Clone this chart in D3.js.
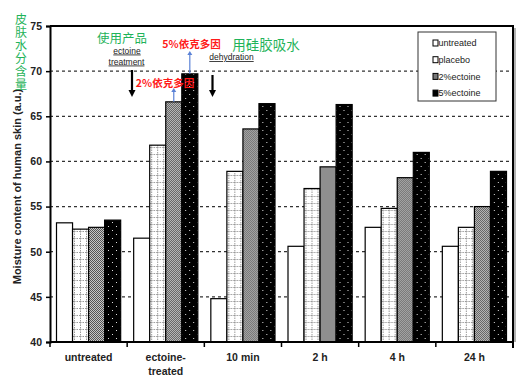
<!DOCTYPE html>
<html><head><meta charset="utf-8">
<script src="https://cdn.jsdelivr.net/npm/d3@7"></script>
<style>
body{margin:0;background:#fff;}
svg{display:block;}
.lbl{font-family:"Liberation Sans Narrow","Arial Narrow","Liberation Sans",sans-serif;font-weight:bold;fill:#222;}
.cjk{font-family:"Noto Sans CJK SC",sans-serif;}
.leg{font-family:"Liberation Sans","DejaVu Sans",sans-serif;fill:#222;}
</style></head>
<body>
<script>
const categories = ["untreated", "ectoine-treated", "10 min", "2 h", "4 h", "24 h"];
const seriesNames = ["untreated", "placebo", "2%ectoine", "5%ectoine"];
const untreatedVals = [53.2, 51.5, 44.8, 50.6, 52.7, 50.6];
const placeboVals   = [52.5, 61.8, 58.9, 57.0, 54.8, 52.7];
const ectoine2Vals  = [52.7, 66.6, 63.6, 59.4, 58.2, 55.0];
const ectoine5Vals  = [53.5, 69.7, 66.4, 66.3, 61.0, 58.9];
const yTicks = [40, 45, 50, 55, 60, 65, 70, 75];

const W = 526, H = 377;
const svg = d3.select("body").append("svg").attr("width", W).attr("height", H);
const defs = svg.append("defs");

// patterns
const pPlacebo = defs.append("pattern").attr("id","pPlacebo").attr("patternUnits","userSpaceOnUse")
  .attr("width",6).attr("height",7);
pPlacebo.append("rect").attr("width",6).attr("height",7).attr("fill","#fff");
pPlacebo.append("line").attr("x1",0.5).attr("x2",0.5).attr("y1",0).attr("y2",7)
  .attr("stroke","#999").attr("stroke-width",1).attr("stroke-dasharray","1.5,1");
pPlacebo.append("line").attr("x1",0).attr("x2",6).attr("y1",0.5).attr("y2",0.5)
  .attr("stroke","#999").attr("stroke-width",1).attr("stroke-dasharray","1.5,1");

const p2 = defs.append("pattern").attr("id","p2").attr("patternUnits","userSpaceOnUse")
  .attr("width",2).attr("height",2);
p2.append("rect").attr("width",2).attr("height",2).attr("fill","#c8c8c8");
p2.append("rect").attr("width",1).attr("height",1).attr("fill","#555");
p2.append("rect").attr("x",1).attr("y",1).attr("width",1).attr("height",1).attr("fill","#555");

const p5 = defs.append("pattern").attr("id","p5").attr("patternUnits","userSpaceOnUse")
  .attr("width",8).attr("height",8);
p5.append("rect").attr("width",8).attr("height",8).attr("fill","#000");
p5.append("rect").attr("x",2).attr("y",2).attr("width",1).attr("height",1).attr("fill","#ddd");
p5.append("rect").attr("x",6).attr("y",6).attr("width",1).attr("height",1).attr("fill","#ddd");

const fills = ["#fff", "url(#pPlacebo)", "url(#p2)", "url(#p5)"];
const legFills = ["#fff", "#fff", "#777", "#000"];

const margin = {left: 50, right: 513, top: 26, bottom: 342};
const y = d3.scaleLinear().domain([40, 75]).range([margin.bottom, margin.top]);
const x0 = d3.scaleBand().domain(categories).range([margin.left, margin.right]).padding(0);
const x1 = d3.scaleBand().domain(seriesNames).range([6.5, x0.bandwidth() - 6.5]).padding(0);

const values = [untreatedVals, placeboVals, ectoine2Vals, ectoine5Vals];

// gridlines
svg.append("g").selectAll("line").data(yTicks.filter(t => t > 40 && t < 75)).join("line")
  .attr("x1", margin.left).attr("x2", margin.right)
  .attr("y1", d => y(d)).attr("y2", d => y(d))
  .attr("stroke", "#333").attr("stroke-width", 1.3).attr("stroke-dasharray", "3,3");

// bars
const groups = svg.append("g").selectAll("g").data(categories).join("g")
  .attr("transform", d => `translate(${x0(d)},0)`);
groups.selectAll("rect").data((c, i) => seriesNames.map((s, j) => ({s, j, v: values[j][i]}))).join("rect")
  .attr("x", d => x1(d.s)).attr("width", x1.bandwidth())
  .attr("y", d => y(d.v)).attr("height", d => y(40) - y(d.v))
  .attr("fill", d => fills[d.j]).attr("stroke", "#000").attr("stroke-width", 1.2);

// frame
svg.append("line").attr("x1", margin.left).attr("x2", margin.right + 1).attr("y1", margin.top).attr("y2", margin.top)
  .attr("stroke", "#000").attr("stroke-width", 2);
svg.append("line").attr("x1", margin.right).attr("x2", margin.right).attr("y1", margin.top).attr("y2", margin.bottom + 6)
  .attr("stroke", "#000").attr("stroke-width", 2);
svg.append("line").attr("x1", margin.right + 2).attr("x2", margin.right + 2).attr("y1", margin.top + 2).attr("y2", margin.bottom)
  .attr("stroke", "#999").attr("stroke-width", 1.5);

// y axis
const yAxis = svg.append("g").attr("transform", `translate(${margin.left},0)`)
  .call(d3.axisLeft(y).tickValues(yTicks).tickSize(4).tickPadding(4));
yAxis.select(".domain").attr("stroke", "#000").attr("stroke-width", 2);
yAxis.selectAll(".tick line").attr("stroke", "#000").attr("stroke-width", 1.5);
yAxis.selectAll("text").attr("class", "lbl").style("font-size", "10.5px");

// x axis
const bounds = categories.map(c => x0(c)).concat([margin.right]);
const xg = svg.append("g");
xg.append("line").attr("x1", margin.left).attr("x2", margin.right).attr("y1", margin.bottom).attr("y2", margin.bottom)
  .attr("stroke", "#000").attr("stroke-width", 2);
xg.selectAll("line.t").data(bounds).join("line").attr("class", "t")
  .attr("x1", d => d).attr("x2", d => d).attr("y1", margin.bottom).attr("y2", margin.bottom + 5)
  .attr("stroke", "#000").attr("stroke-width", 1.5);
const xl = xg.selectAll("text").data(categories).join("text").attr("class", "lbl")
  .attr("text-anchor", "middle").style("font-size", "10.5px")
  .attr("x", d => x0(d) + x0.bandwidth() / 2).attr("y", margin.bottom + 19);
xl.each(function(d) {
  const parts = d.includes("-") ? [d.split("-")[0] + "-", d.split("-")[1]] : [d];
  d3.select(this).selectAll("tspan").data(parts).join("tspan")
    .attr("x", x0(d) + x0.bandwidth() / 2).attr("dy", (p, i) => i === 0 ? 0 : 14).text(p => p);
});

// y title
svg.append("text").attr("class", "lbl").style("font-size", "11px")
  .attr("transform", `translate(21,${(278 + 95) / 2}) rotate(-90)`)
  .attr("text-anchor", "middle").text("Moisture content of human skin (a.u.)");
svg.append("text").attr("class", "cjk")
  .attr("x", 21).attr("y", 13)
  .style("writing-mode", "vertical-rl").style("text-orientation", "upright")
  .style("font-size", "12px").style("letter-spacing", "1px")
  .attr("fill", "#1fb35a").text("皮肤水分含量");

// legend
const lg = svg.append("g");
lg.append("rect").attr("x", 418).attr("y", 32).attr("width", 78).attr("height", 69)
  .attr("fill", "#fff").attr("stroke", "#333").attr("stroke-width", 1);
seriesNames.forEach((s, i) => {
  const yy = 43 + i * 16.7;
  lg.append("rect").attr("x", 433).attr("y", yy - 3).attr("width", 5).attr("height", 6)
    .attr("fill", legFills[i]).attr("stroke", "#000").attr("stroke-width", 1);
  lg.append("text").attr("class", "leg").attr("x", 438.5).attr("y", yy + 3.2)
    .style("font-size", "9px").text(s);
});

// annotations
function arrowDown(xp, y1, y2) {
  svg.append("line").attr("x1", xp).attr("x2", xp).attr("y1", y1).attr("y2", y2 - 6)
    .attr("stroke", "#000").attr("stroke-width", 2.2);
  svg.append("path").attr("d", `M${xp - 3.5},${y2 - 7} L${xp + 3.5},${y2 - 7} L${xp},${y2} Z`).attr("fill", "#000");
}
arrowDown(132, 70, 97);
arrowDown(212.5, 75, 97);

function blueArrow(xp, y1, y2) {
  svg.append("line").attr("x1", xp).attr("x2", xp).attr("y1", y1).attr("y2", y2 + 3)
    .attr("stroke", "#5b82d6").attr("stroke-width", 1.2);
  svg.append("path").attr("d", `M${xp - 2.5},${y2 + 4} L${xp + 2.5},${y2 + 4} L${xp},${y2} Z`).attr("fill", "#5b82d6");
}
blueArrow(x0("ectoine-treated") + x1("5%ectoine") + x1.bandwidth() / 2, y(ectoine5Vals[1]), 51);
blueArrow(x0("ectoine-treated") + x1("2%ectoine") + x1.bandwidth() / 2, y(ectoine2Vals[1]), 88);

svg.append("text").attr("class", "cjk").attr("x", 122).attr("y", 43).attr("text-anchor", "middle")
  .style("font-size", "12.5px").attr("fill", "#1fb35a").text("使用产品");
svg.append("text").attr("class", "cjk").attr("x", 266).attr("y", 50).attr("text-anchor", "middle")
  .style("font-size", "13.5px").attr("fill", "#1fb35a").text("用硅胶吸水");
svg.append("text").attr("class", "cjk").attr("x", 191.5).attr("y", 48).attr("text-anchor", "middle")
  .style("font-size", "10.5px").style("font-weight", "bold").attr("fill", "#ff1a1a").text("5%依克多因");
svg.append("text").attr("class", "cjk").attr("x", 165).attr("y", 86.5).attr("text-anchor", "middle")
  .style("font-size", "10.5px").style("font-weight", "bold").attr("fill", "#ff1a1a").text("2%依克多因");

function ulText(txt, cx, yy) {
  svg.append("text").attr("class", "leg").attr("x", cx).attr("y", yy)
    .attr("text-anchor", "middle").style("font-size", "8.5px").attr("fill", "#333")
    .style("text-decoration", "underline").text(txt);
}
ulText("ectoine", 127, 53.5);
ulText("treatment", 126.5, 64.5);
ulText("dehydration", 231.5, 60);
</script>
</body></html>
